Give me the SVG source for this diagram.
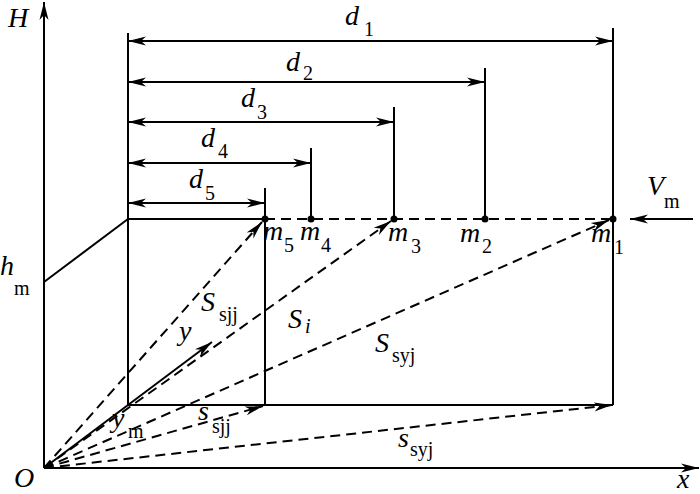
<svg xmlns="http://www.w3.org/2000/svg" width="700" height="494" viewBox="0 0 700 494">
<style>
.ln{stroke:#000;stroke-width:2;fill:none}
.ds{stroke:#000;stroke-width:2;fill:none;stroke-dasharray:10 6}
.it{font-family:"Liberation Serif","Times New Roman",serif;font-style:italic;font-size:28px;fill:#000}
.sb{font-family:"Liberation Serif","Times New Roman",serif;font-size:20px;fill:#000}
.si{font-style:italic}
.dot{fill:#000}
</style>
<defs>
<marker id="ah" markerUnits="userSpaceOnUse" markerWidth="20" markerHeight="12" viewBox="-18 -6 20 12" refX="0" refY="0" orient="auto">
<path d="M0,0 L-18,-4.5 L-13,0 L-18,4.5 Z" fill="#000" stroke="none"/>
</marker>
<marker id="as" markerUnits="userSpaceOnUse" markerWidth="20" markerHeight="12" viewBox="-18 -6 20 12" refX="0" refY="0" orient="auto-start-reverse">
<path d="M0,0 L-18,-4.5 L-13,0 L-18,4.5 Z" fill="#000" stroke="none"/>
</marker>
</defs>
<rect width="700" height="494" fill="#fff"/>
<g id="axes">
<line class="ln" x1="44" y1="468" x2="44" y2="2" marker-end="url(#ah)"/>
<line class="ln" x1="44" y1="468" x2="699" y2="468" marker-end="url(#ah)"/>
<line class="ln" x1="44" y1="468" x2="212" y2="342" marker-end="url(#ah)"/>
</g>
<g id="frame">
<line class="ln" x1="44" y1="282" x2="128" y2="219"/>
<line class="ln" x1="128" y1="33" x2="128" y2="405"/>
<line class="ln" x1="128" y1="219" x2="265" y2="219"/>
<line class="ds" x1="265" y1="219" x2="613" y2="219"/>
<line class="ln" x1="613" y1="28" x2="613" y2="405"/>
<line class="ln" x1="485" y1="68" x2="485" y2="219"/>
<line class="ln" x1="394" y1="107" x2="394" y2="219"/>
<line class="ln" x1="311" y1="148" x2="311" y2="219"/>
<line class="ln" x1="265" y1="188" x2="265" y2="405"/>
<line class="ln" x1="128" y1="405" x2="613" y2="405"/>
</g>
<g id="connectors">
<line class="ln" x1="128" y1="41" x2="613" y2="41" marker-start="url(#as)" marker-end="url(#as)"/>
<line class="ln" x1="128" y1="82" x2="485" y2="82" marker-start="url(#as)" marker-end="url(#as)"/>
<line class="ln" x1="128" y1="122" x2="394" y2="122" marker-start="url(#as)" marker-end="url(#as)"/>
<line class="ln" x1="128" y1="163" x2="311" y2="163" marker-start="url(#as)" marker-end="url(#as)"/>
<line class="ln" x1="128" y1="203" x2="265" y2="203" marker-start="url(#as)" marker-end="url(#as)"/>
<line class="ds" x1="44" y1="468" x2="262" y2="222" marker-end="url(#ah)"/>
<line class="ds" x1="44" y1="468" x2="391" y2="221" marker-end="url(#ah)"/>
<line class="ds" x1="44" y1="468" x2="609" y2="220" marker-end="url(#ah)"/>
<line class="ds" x1="44" y1="468" x2="263" y2="406" marker-end="url(#ah)"/>
<line class="ds" x1="44" y1="468" x2="612" y2="405" marker-end="url(#ah)"/>
<line class="ln" x1="693" y1="219" x2="630" y2="219" marker-end="url(#ah)"/>
</g>
<g id="points">
<circle id="m5" class="dot" cx="265" cy="219" r="3.5"/>
<circle id="m4" class="dot" cx="311" cy="219" r="3.5"/>
<circle id="m3" class="dot" cx="394" cy="219" r="3.5"/>
<circle id="m2" class="dot" cx="485" cy="219" r="3.5"/>
<circle id="m1" class="dot" cx="613" cy="219" r="3.5"/>
</g>
<g id="labels">
<text class="it" x="8" y="27">H</text>
<text class="it" x="345" y="25">d</text><text class="sb" x="364" y="36">1</text>
<text class="it" x="286" y="71">d</text><text class="sb" x="303" y="80">2</text>
<text class="it" x="241" y="107">d</text><text class="sb" x="257" y="119">3</text>
<text class="it" x="201" y="147">d</text><text class="sb" x="218" y="158">4</text>
<text class="it" x="189" y="188">d</text><text class="sb" x="205" y="200">5</text>
<text class="it" x="263" y="240">m</text><text class="sb" x="284" y="252">5</text>
<text class="it" x="300" y="240">m</text><text class="sb" x="321" y="252">4</text>
<text class="it" x="388" y="241">m</text><text class="sb" x="411" y="253">3</text>
<text class="it" x="460" y="242">m</text><text class="sb" x="482" y="253">2</text>
<text class="it" x="591" y="242">m</text><text class="sb" x="614" y="254">1</text>
<text class="it" x="647" y="195">V</text><text class="sb" x="664" y="208">m</text>
<text class="it" x="0" y="275">h</text><text class="sb" x="14" y="295">m</text>
<text class="it" x="201" y="311">S</text><text class="sb" x="219" y="321">sjj</text>
<text class="it" x="288" y="328">S</text><text class="sb si" x="305" y="333">i</text>
<text class="it" x="375" y="352">S</text><text class="sb" x="392" y="362">syj</text>
<text class="it" x="179" y="340">y</text>
<text class="it" x="112" y="427">y</text><text class="sb" x="128" y="438">m</text>
<text class="it" x="198" y="420">s</text><text class="sb" x="212" y="433">sjj</text>
<text class="it" x="398" y="447">s</text><text class="sb" x="410" y="456">syj</text>
<text class="it" x="14" y="487">O</text>
<text class="it" x="677" y="488">x</text>
</g>
</svg>
